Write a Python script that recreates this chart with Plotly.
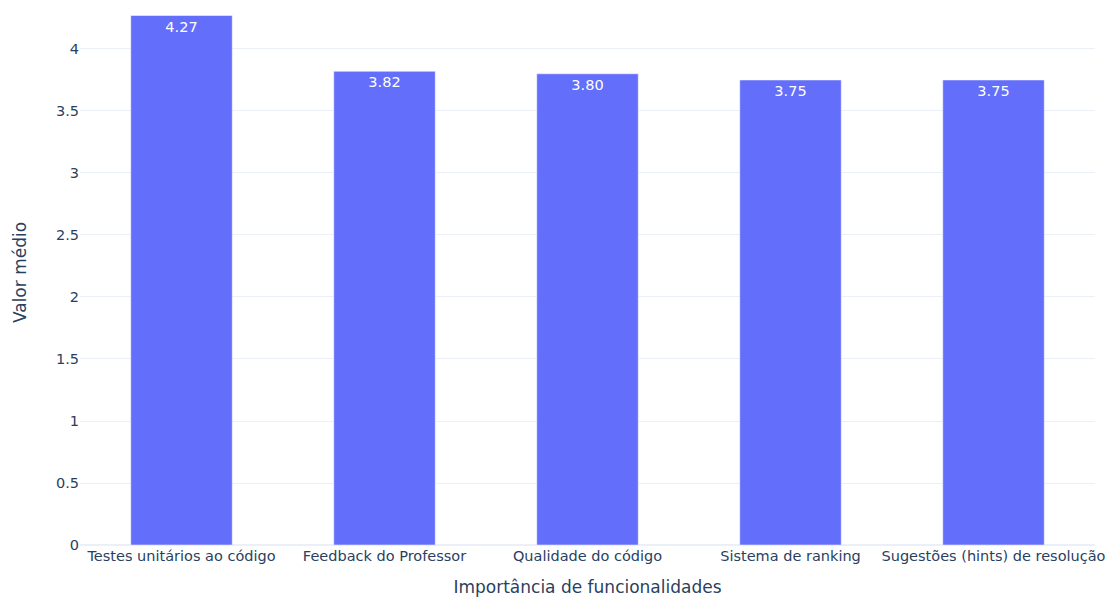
import plotly.graph_objects as go

categories = [
    "Testes unitários ao código",
    "Feedback do Professor",
    "Qualidade do código",
    "Sistema de ranking",
    "Sugestões (hints) de resolução",
]
mean_values = [4.27, 3.82, 3.80, 3.75, 3.75]

font_family = "Verdana, DejaVu Sans, sans-serif"

fig = go.Figure(
    go.Bar(
        x=categories,
        y=mean_values,
        marker_color="#636efa",
        text=mean_values,
        texttemplate="%{y:.2f}",
        textposition="inside",
        insidetextanchor="end",
        textfont=dict(color="white", size=14.5, family=font_family),
    )
)

fig.update_layout(
    template="plotly_white",
    width=1110,
    height=597,
    margin=dict(l=80, r=15, t=0, b=52),
    bargap=0.5,
    font=dict(family=font_family, size=14.5, color="#2a3f5f"),
    xaxis=dict(
        title=dict(text="Importância de funcionalidades", font=dict(size=17), standoff=18),
        automargin=False,
    ),
    yaxis=dict(
        title=dict(text="Valor médio", font=dict(size=17), standoff=24),
        automargin=False,
        range=[0, 4.395],
        dtick=0.5,
    ),
    showlegend=False,
)

fig.write_html("out.html")
